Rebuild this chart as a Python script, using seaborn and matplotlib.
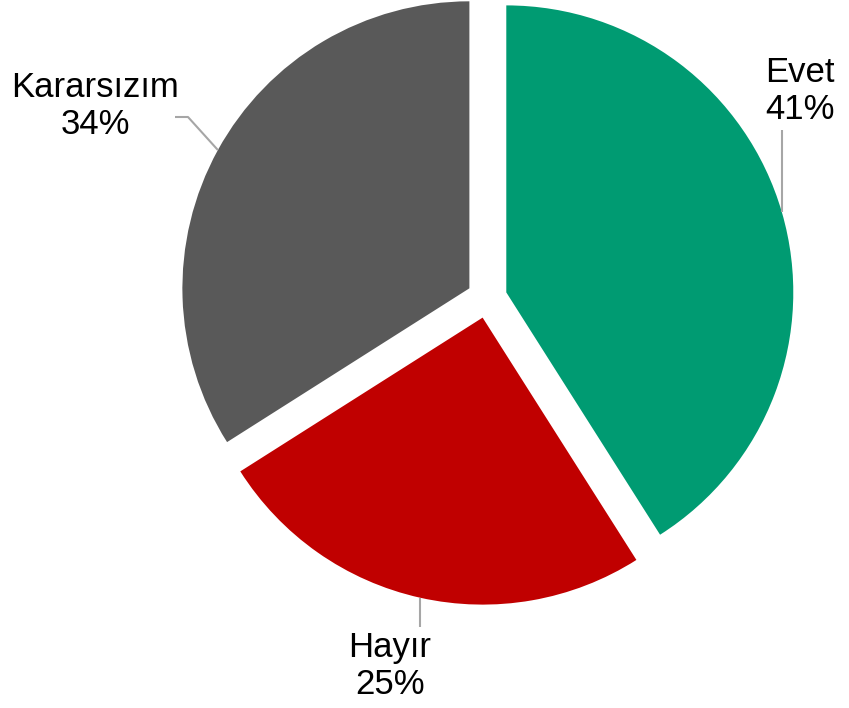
import numpy as np
import matplotlib
matplotlib.use("Agg")
import matplotlib.pyplot as plt
import seaborn as sns

# --- Daten ---
labels = ["Evet", "Hayır", "Kararsızım"]
values = [41, 25, 34]
colors = ["#009B72", "#C00000", "#595959"]

sns.set_theme(style="white")
plt.rcParams['font.family'] = ['Liberation Sans', 'DejaVu Sans']

fig = plt.figure(figsize=(8.49, 7.08), dpi=100)
ax = fig.add_axes([0, 0, 1, 1])

explode = 0.07
wedges, _ = ax.pie(values, colors=colors, startangle=90, counterclock=False,
                   explode=[explode] * len(values), radius=1.0,
                   wedgeprops=dict(linewidth=0))

# Achsen so, dass Mittelpunkt bei ca. (487, 298) px liegt, 1 Einheit = 287 px
px = 287.0
cx, cy = 487.0, 708.0 - 298.0
ax.set_xlim(-cx / px, (849 - cx) / px)
ax.set_ylim(-cy / px, (708 - cy) / px)
ax.set_aspect("equal")
ax.axis("off")

def to_data(x, y):
    return (x - cx) / px, (708 - y - cy) / px

# Beschriftungen: Textmitte in px, Führungslinie (None = senkrecht bis y)
label_layout = {
    "Evet": ((800, 91), ("vert", 130)),
    "Hayır": ((390, 666), ("vert", 627)),
    "Kararsızım": ((95, 106), ("knick", [(188, 117), (175, 117)])),
}

for w, lab, val in zip(wedges, labels, values):
    mid = np.deg2rad((w.theta1 + w.theta2) / 2)
    r = 1.0 + explode
    anchor = (r * np.cos(mid), r * np.sin(mid))
    (tx, ty), (kind, spec) = label_layout[lab]
    if kind == "vert":
        pts = [anchor, (anchor[0], to_data(0, spec)[1])]
    else:
        pts = [anchor] + [to_data(*k) for k in spec]
    xs, ys = zip(*pts)
    ax.plot(xs, ys, color="#A6A6A6", linewidth=1.5, solid_capstyle="butt")
    ax.text(*to_data(tx, ty), f"{lab}\n{val}%", ha="center", va="center",
            fontsize=25, color="black", linespacing=1.12)

fig.savefig("out.png", dpi=100)
